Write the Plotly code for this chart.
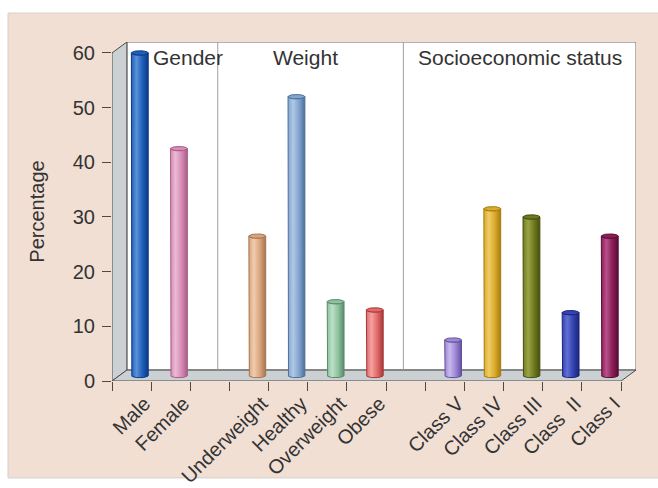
import numpy as np
import plotly.graph_objects as go

# ---- data ----
categories = ["Male", "Female", "Underweight", "Healthy", "Overweight", "Obese",
              "Class V", "Class IV", "Class III", "Class  II", "Class I"]
slots = [1, 2, 4, 5, 6, 7, 9, 10, 11, 12, 13]          # empty slots 3 and 8 separate the groups
percentages = [59, 41.5, 25.5, 51, 13.5, 12, 6.5, 30.5, 29, 11.5, 25.5]
group_names = ["Gender", "Weight", "Socioeconomic status"]
group_label_x = [1.5, 5.45, 10.93]
group_dividers = [3.2, 7.94]
y_ticks = [0, 10, 20, 30, 40, 50, 60]

# light / mid / dark shade per bar
shades = [
    ("#5a92d8", "#1f5fb8", "#0c3a88"),
    ("#ecbad4", "#d68cb4", "#a85c88"),
    ("#f0ccae", "#d9a57e", "#a8744c"),
    ("#b0c8e4", "#82a5cf", "#4d6f9c"),
    ("#bde0c6", "#8ec2a0", "#5a8a6a"),
    ("#f4a2a0", "#e26a6a", "#a83838"),
    ("#c8b8ec", "#9c88d4", "#6450a0"),
    ("#f0cc66", "#d9aa2c", "#a87a0c"),
    ("#9aa446", "#6f7a20", "#474f0c"),
    ("#6070d4", "#3444b0", "#1a247a"),
    ("#b8508a", "#8c1e58", "#5a0c34"),
]

# ---- 3D box geometry (axis units) ----
X0, X1 = 0.5, 13.5
DX, DY = 0.38, 2.0
Y_TOP = 60
BAR_HALF = 0.215
CAP_H = 0.4
BASE = DY / 2
OFFSET = DX / 2 + 0.02

fig = go.Figure()

t = np.linspace(0, np.pi, 30)
for s, v, (light, mid, dark) in zip(slots, percentages, shades):
    c = s + OFFSET
    top = BASE + v
    xs = np.concatenate([[c - BAR_HALF], c - BAR_HALF * np.cos(t), [c + BAR_HALF],
                         c + BAR_HALF * np.cos(t)])
    ys = np.concatenate([[top], BASE - CAP_H * np.sin(t), [top], top - CAP_H * np.sin(t)])
    fig.add_trace(go.Scatter(
        x=xs, y=ys, mode="lines", fill="toself",
        line=dict(color=dark, width=1),
        fillgradient=dict(type="horizontal",
                          colorscale=[[0, mid], [0.3, light], [0.65, mid], [1, dark]]),
        hoverinfo="skip", showlegend=False))
    tt = np.linspace(0, 2 * np.pi, 60)
    fig.add_trace(go.Scatter(
        x=c + BAR_HALF * np.cos(tt), y=top + CAP_H * np.sin(tt),
        mode="lines", fill="toself", fillcolor=mid,
        line=dict(color=dark, width=1),
        hoverinfo="skip", showlegend=False))

frame = "#4a4a4a"
wall = "#cbd0d3"
shapes = [
    # page panel
    dict(type="rect", xref="paper", yref="paper", x0=-0.1985, x1=1.06, y0=-0.286, y1=1.0855,
         fillcolor="#f1dfd3", line=dict(color="#d8d0cc", width=1), layer="below"),
    # back wall
    dict(type="rect", xref="x", yref="y", x0=X0 + DX, x1=X1 + DX, y0=DY, y1=Y_TOP + DY,
         fillcolor="white", line=dict(color="#666", width=1), layer="below"),
    # left wall
    dict(type="path", xref="x", yref="y",
         path=f"M{X0},0 L{X0},{Y_TOP} L{X0 + DX},{Y_TOP + DY} L{X0 + DX},{DY} Z",
         fillcolor=wall, line=dict(color=frame, width=1), layer="below"),
    # floor
    dict(type="path", xref="x", yref="y",
         path=f"M{X0},0 L{X1},0 L{X1 + DX},{DY} L{X0 + DX},{DY} Z",
         fillcolor=wall, line=dict(color=frame, width=1), layer="below"),
]
for gx in group_dividers:
    shapes.append(dict(type="line", xref="x", yref="y", x0=gx, x1=gx, y0=DY, y1=Y_TOP + DY,
                       line=dict(color="#a0a0a0", width=1), layer="below"))

annotations = [
    dict(text=group_names[0], x=group_label_x[0], xanchor="left"),
    dict(text=group_names[1], x=group_label_x[1], xanchor="center"),
    dict(text=group_names[2], x=group_label_x[2], xanchor="center"),
]
for a in annotations:
    a.update(xref="x", yref="y", y=59.1, yanchor="middle", showarrow=False,
             font=dict(family="Liberation Sans, Arial", size=21, color="#333"))

fig.update_layout(
    width=658, height=488,
    margin=dict(l=112, r=22, t=42, b=107, autoexpand=False),
    paper_bgcolor="white", plot_bgcolor="rgba(0,0,0,0)",
    shapes=shapes, annotations=annotations,
    font=dict(family="Liberation Sans, Arial", color="#333"),
    xaxis=dict(range=[X0, X1 + DX], showgrid=False, zeroline=False, showline=False,
               automargin=False,
               tickmode="array", tickvals=[s + OFFSET + 0.12 for s in slots],
               ticktext=categories, ticks="", ticklabelstandoff=6,
               tickangle=-45, tickfont=dict(size=20, color="#333"),
               minor=dict(tickmode="array", tickvals=[X0 + i for i in range(14)],
                          ticks="outside", ticklen=9, tickcolor=frame, tickwidth=1.2)),
    yaxis=dict(range=[0, Y_TOP + DY], showgrid=False, zeroline=False, showline=False,
               automargin=False,
               tickmode="array", tickvals=y_ticks, ticks="outside", ticklen=9,
               tickcolor=frame, tickwidth=1.2, tickfont=dict(size=20, color="#333"),
               ticklabelstandoff=3,
               title=dict(text="Percentage", font=dict(size=20, color="#333"), standoff=22)),
)

fig.write_html("out.html")
